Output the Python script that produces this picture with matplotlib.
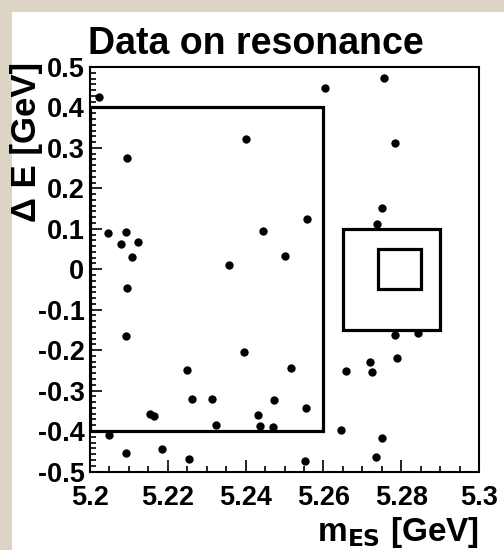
import matplotlib
matplotlib.use("Agg")
import matplotlib.pyplot as plt
from matplotlib.patches import Rectangle
from matplotlib.ticker import MultipleLocator

# dane
mes = [5.2024, 5.2605, 5.2756, 5.2400, 5.2095, 5.2047, 5.2093, 5.2079, 5.2124,
       5.2109, 5.2357, 5.2094, 5.2446, 5.2784, 5.2750, 5.2737, 5.2558, 5.2502,
       5.2092, 5.2395, 5.2250, 5.2262, 5.2314, 5.2154, 5.2165, 5.2324, 5.2433,
       5.2437, 5.2470, 5.2049, 5.2092, 5.2186, 5.2254, 5.2516, 5.2472, 5.2554,
       5.2553, 5.2646, 5.2658, 5.2720, 5.2724, 5.2784, 5.2844, 5.2789, 5.2750,
       5.2735]
de = [0.427, 0.447, 0.472, 0.322, 0.275, 0.089, 0.093, 0.063, 0.067,
      0.031, 0.010, -0.047, 0.094, 0.311, 0.152, 0.112, 0.123, 0.033,
      -0.164, -0.205, -0.249, -0.320, -0.320, -0.357, -0.363, -0.384, -0.360,
      -0.388, -0.389, -0.410, -0.455, -0.444, -0.468, -0.243, -0.324, -0.344,
      -0.475, -0.398, -0.252, -0.230, -0.253, -0.162, -0.157, -0.219, -0.418,
      -0.464]

# obszary: (mes_min, mes_max, de_min, de_max)
sideband = (5.20, 5.26, -0.40, 0.40)
box_big = (5.265, 5.29, -0.15, 0.10)
box_small = (5.274, 5.285, -0.05, 0.05)

xticks = [5.2, 5.22, 5.24, 5.26, 5.28, 5.3]
xlabels = ["5.2", "5.22", "5.24", "5.26", "5.28", "5.3"]
yticks = [0.5, 0.4, 0.3, 0.2, 0.1, 0, -0.1, -0.2, -0.3, -0.4, -0.5]
ylabels = ["0.5", "0.4", "0.3", "0.2", "0.1", "0", "-0.1", "-0.2", "-0.3", "-0.4", "-0.5"]

plt.rcParams["font.family"] = ["Liberation Sans", "DejaVu Sans"]
plt.rcParams["font.weight"] = "bold"

W, H = 504, 550
fig = plt.figure(figsize=(W / 100, H / 100), dpi=100, facecolor="#ddd5c3")
fig.patches.append(Rectangle((12 / W, 0), 1 - 12 / W, 1 - 12 / H,
                             transform=fig.transFigure, facecolor="white",
                             edgecolor="none", zorder=-10))

ax = fig.add_axes([90 / W, 1 - 471.5 / H, (479 - 90) / W, (471.5 - 67) / H])
ax.set_facecolor("white")
ax.plot(mes, de, "o", color="black", ms=6, mew=0, clip_on=False)

for b in (sideband, box_big, box_small):
    ax.add_patch(Rectangle((b[0], b[2]), b[1] - b[0], b[3] - b[2],
                           fill=False, edgecolor="black", lw=2.3))

ax.set_xlim(5.2, 5.3)
ax.set_ylim(-0.5, 0.5)
ax.set_xticks(xticks)
ax.set_xticklabels(xlabels, fontsize=19.5, fontweight="bold")
ax.set_yticks(yticks)
ax.set_yticklabels(ylabels, fontsize=19.5, fontweight="bold")
ax.xaxis.set_minor_locator(MultipleLocator(0.005))
ax.yaxis.set_minor_locator(MultipleLocator(0.1 / 7))
ax.tick_params(which="both", direction="in", top=False, right=False, width=1.2)
ax.tick_params(which="major", length=8.5)
ax.tick_params(which="minor", length=4.3)
ax.tick_params(axis="x", which="major", pad=10)
ax.tick_params(axis="y", which="major", pad=4)
for s in ax.spines.values():
    s.set_linewidth(1.5)

ax.set_xlabel(r"m$_{\mathbf{ES}}$ [GeV]", fontsize=24, fontweight="bold")
ax.xaxis.label.set_horizontalalignment("right")
ax.xaxis.label.set_verticalalignment("baseline")
ax.xaxis.set_label_coords(1.0, -(541 - 471.5) / (471.5 - 67))

ax.set_ylabel("\u0394 E [GeV]", fontsize=25, fontweight="bold")
ax.yaxis.label.set_horizontalalignment("right")
ax.yaxis.label.set_verticalalignment("top")
ax.yaxis.set_label_coords(-(90 - 10) / (479 - 90), 1 + 5 / (471.5 - 67))

fig.text(88 / W, 1 - 54 / H, "Data on resonance", fontsize=27,
         fontweight="bold", ha="left", va="baseline")

fig.savefig("out.png", dpi=100, facecolor=fig.get_facecolor())
